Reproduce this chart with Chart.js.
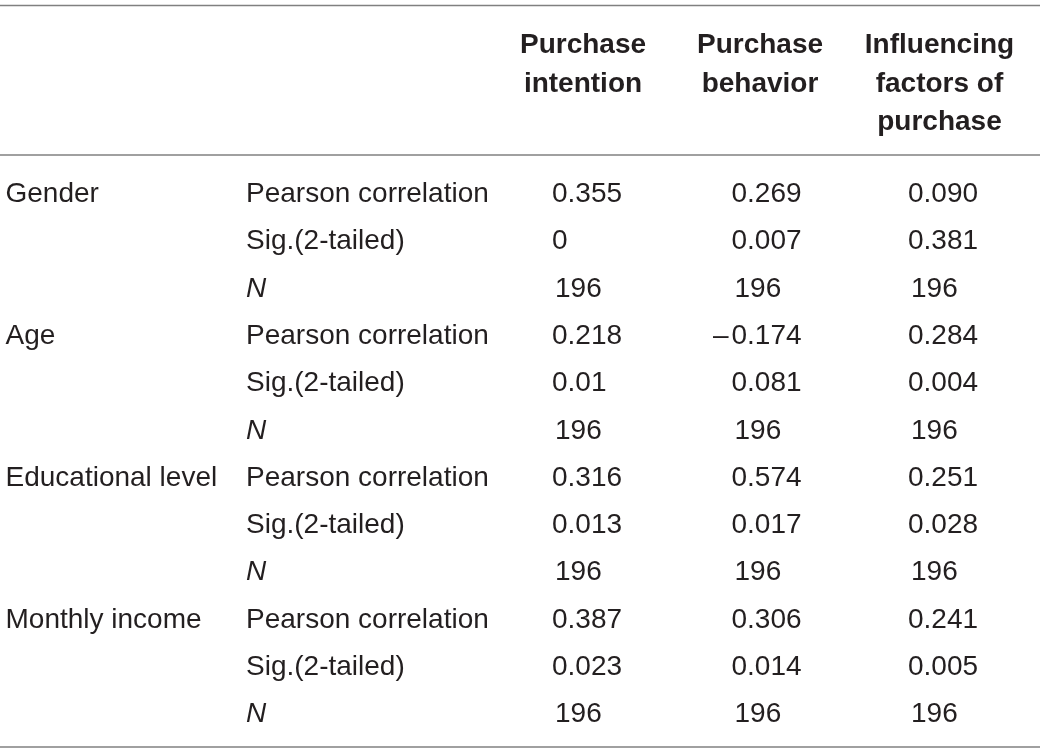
<!DOCTYPE html>
<html>
<head>
<meta charset="utf-8">
<script src="https://cdn.jsdelivr.net/npm/chart.js@4.4.1/dist/chart.umd.min.js"></script>
<style>
  html, body { margin: 0; padding: 0; background: #ffffff; }
  #wrap { width: 1040px; height: 753px; position: relative; }
</style>
</head>
<body>
<div id="wrap"><canvas id="c"></canvas></div>
<script>
// ---- data ----
const variables = ["Gender", "Age", "Educational level", "Monthly income"];
const statistics = ["Pearson correlation", "Sig.(2-tailed)", "N"];
const columnHeaders = [
  ["Purchase", "intention"],
  ["Purchase", "behavior"],
  ["Influencing", "factors of", "purchase"]
];
const purchaseIntention  = ["0.355", "0",     "196", "0.218", "0.01",  "196", "0.316", "0.013", "196", "0.387", "0.023", "196"];
const purchaseBehavior   = ["0.269", "0.007", "196", "−0.174", "0.081", "196", "0.574", "0.017", "196", "0.306", "0.014", "196"];
const influencingFactors = ["0.090", "0.381", "196", "0.284", "0.004", "196", "0.251", "0.028", "196", "0.241", "0.005", "196"];

// ---- layout (positions/styles) ----
const TEXT_COLOR = "#231f20";
const RULE_COLOR = "#808080";
const FONT_FAMILY = "'Liberation Sans', Arial, Helvetica, sans-serif";
const FONT_SIZE = 28;
const COL_X = [5.5, 246, 552, 731.5, 908];      // left anchors of body columns
const HEAD_X = [583, 760, 939.5];                // centers of header columns
const HEAD_Y = [-3.15, -2.332, -1.522];          // header line baselines (row units)
const RULE_Y = [-4.154, -0.994, 11.522];         // horizontal rules (row units)
const INT_SHIFT = 3;                             // integer counts sit slightly right

const rowsPerVar = statistics.length;
const nRows = variables.length * rowsPerVar;

const datasets = [];
// header dataset
const headPts = [], headTxt = [];
columnHeaders.forEach((lines, c) => lines.forEach((t, j) => {
  headPts.push({ x: HEAD_X[c], y: HEAD_Y[j] }); headTxt.push(t);
}));
datasets.push({ label: "header", data: headPts, texts: headTxt, align: "center", weight: "bold" });
// variables
datasets.push({ label: "variable", data: variables.map((v, k) => ({ x: COL_X[0], y: k * rowsPerVar })), texts: variables, align: "left" });
// statistics
const statTexts = [];
for (let i = 0; i < nRows; i++) statTexts.push(statistics[i % rowsPerVar]);
datasets.push({ label: "statistic", data: statTexts.map((t, i) => ({ x: COL_X[1], y: i })), texts: statTexts, align: "left", italicN: true });
// values
[purchaseIntention, purchaseBehavior, influencingFactors].forEach((arr, c) => {
  datasets.push({ label: columnHeaders[c].join(" "), data: arr.map((t, i) => ({ x: COL_X[c + 2], y: i })), texts: arr, align: "left", numeric: true });
});
datasets.forEach(d => { d.pointRadius = 0; d.pointHoverRadius = 0; d.showLine = false; });

const tablePlugin = {
  id: "tableText",
  beforeDatasetsDraw(chart) {
    const ctx = chart.ctx, ys = chart.scales.y, area = chart.chartArea;
    ctx.save();
    ctx.strokeStyle = RULE_COLOR;
    ctx.lineWidth = 1.5;
    RULE_Y.forEach(v => {
      const py = ys.getPixelForValue(v);
      ctx.beginPath(); ctx.moveTo(area.left, py); ctx.lineTo(area.right, py); ctx.stroke();
    });
    ctx.restore();
  },
  afterDatasetsDraw(chart) {
    const ctx = chart.ctx;
    ctx.save();
    ctx.fillStyle = TEXT_COLOR;
    ctx.textBaseline = "alphabetic";
    chart.data.datasets.forEach((ds, di) => {
      const meta = chart.getDatasetMeta(di);
      meta.data.forEach((el, i) => {
        let t = ds.texts[i];
        let x = el.x;
        let style = "normal";
        if (ds.italicN && t === "N") style = "italic";
        ctx.font = style + " " + (ds.weight || "normal") + " " + FONT_SIZE + "px " + FONT_FAMILY;
        ctx.textAlign = ds.align;
        if (ds.numeric) {
          if (t.startsWith("−")) {
            ctx.textAlign = "right";
            ctx.fillText("–", x - 3, el.y);
            ctx.textAlign = "left";
            t = t.slice(1);
          } else if (t.indexOf(".") < 0 && t.length > 1) {
            x += INT_SHIFT;
          }
        }
        ctx.fillText(t, x, el.y);
      });
    });
    ctx.restore();
  }
};

new Chart(document.getElementById("c"), {
  type: "scatter",
  data: { datasets },
  options: {
    responsive: true,
    maintainAspectRatio: false,
    animation: false,
    layout: { padding: 0 },
    events: [],
    plugins: { legend: { display: false }, tooltip: { enabled: false }, title: { display: false } },
    scales: {
      x: { type: "linear", min: 0, max: 1040, display: false },
      y: { type: "linear", min: -4.2706, max: 11.649, reverse: true, display: false }
    }
  },
  plugins: [tablePlugin]
});
</script>
</body>
</html>
